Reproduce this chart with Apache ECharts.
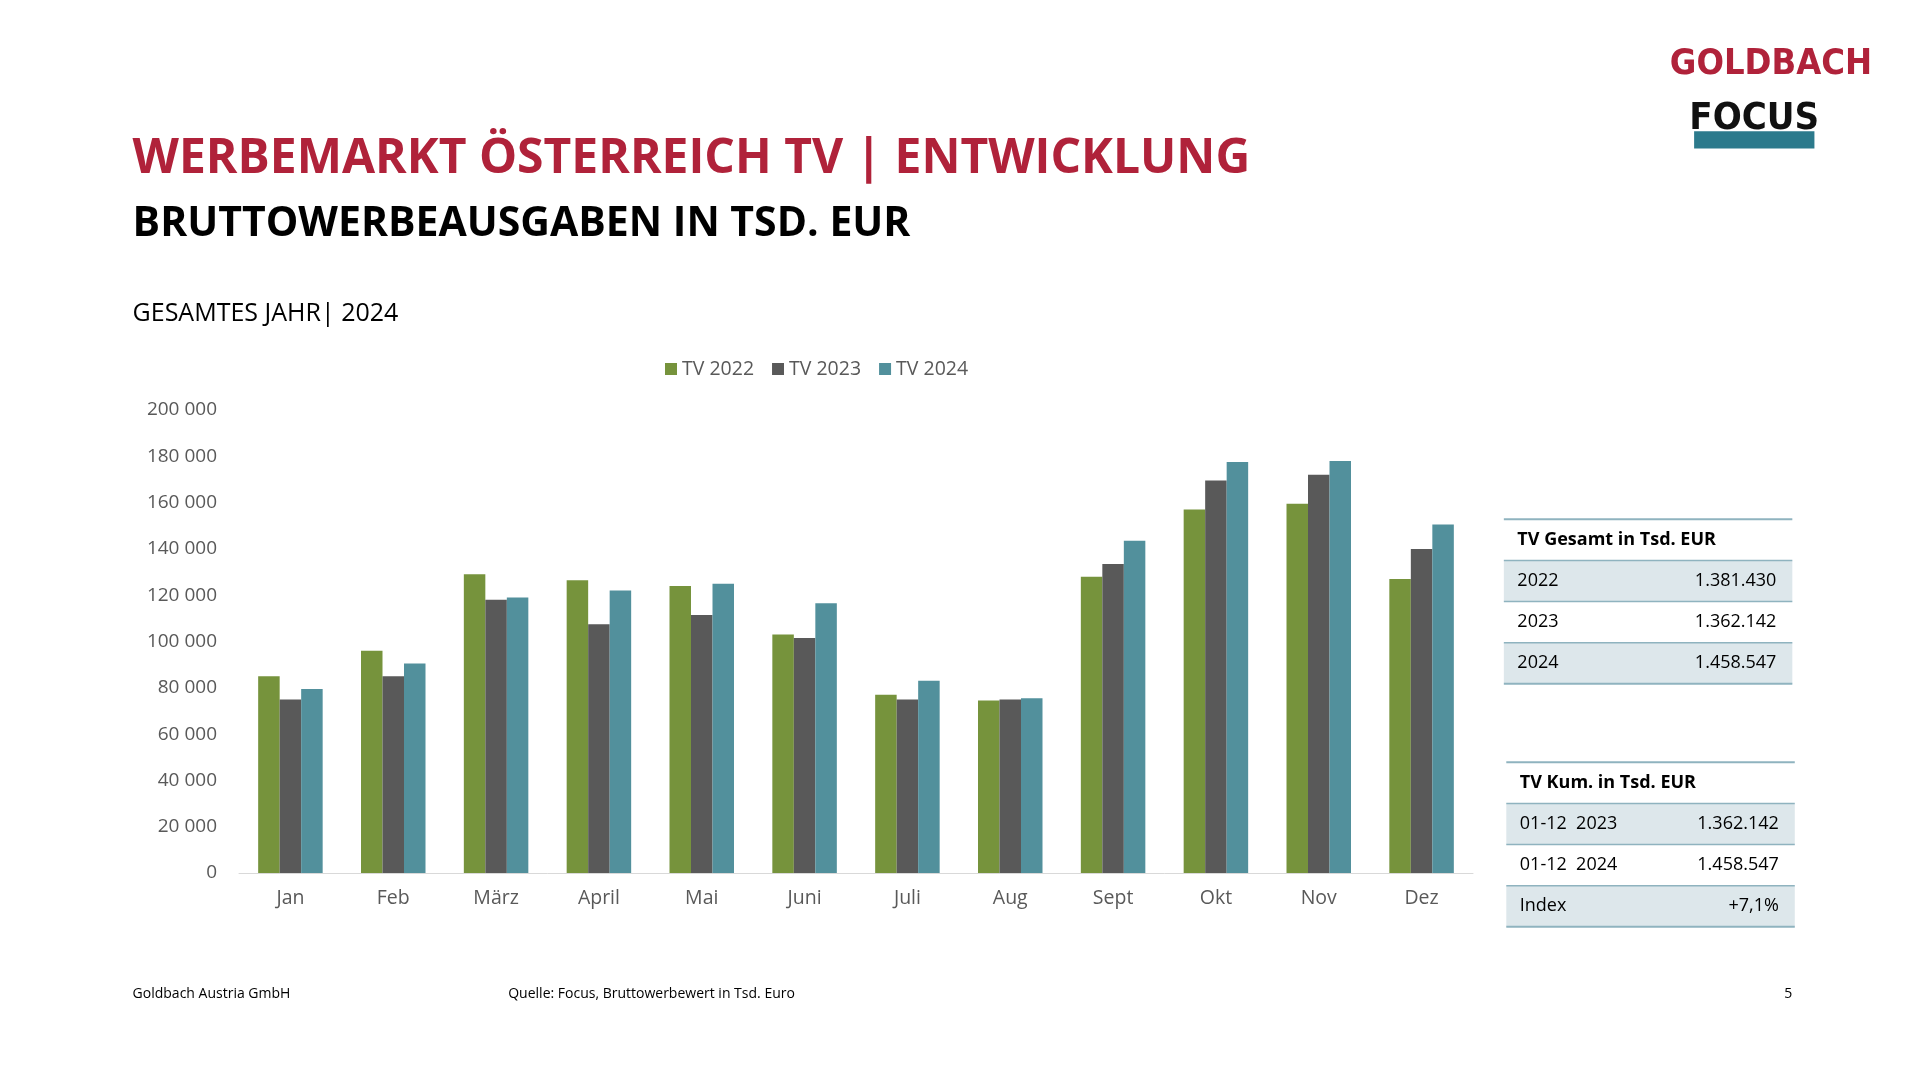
<!DOCTYPE html>
<html><head><meta charset="utf-8">
<script src="https://cdn.jsdelivr.net/npm/echarts@6/dist/echarts.min.js"></script>
<style>html,body{margin:0;padding:0;background:#fff}#c{width:1920px;height:1080px}</style>
</head><body><div id="c"></div>
<script>
const months = ['Jan','Feb','März','April','Mai','Juni','Juli','Aug','Sept','Okt','Nov','Dez'];
const tv2022 = [85000,96000,129000,126500,124000,103000,77000,74500,128000,157000,159500,127000];
const tv2023 = [75000,85000,118000,107500,111500,101500,75000,75000,133500,169500,172000,140000];
const tv2024 = [79500,90500,119000,122000,125000,116500,83000,75500,143500,177500,178000,150500];
const table1Rows = [['2022','1.381.430'],['2023','1.362.142'],['2024','1.458.547']];
const table2Rows = [['01-12  2023','1.362.142'],['01-12  2024','1.458.547'],['Index','+7,1%']];

const S = 1920/1564;
const F = "'Open Sans', sans-serif";
const g = [];
function txt(x,y,t,size,opt={}) {
  g.push({type:'text',x:x*S,y:y*S,style:{text:t,font:(opt.bold?'bold ':'')+Math.round(size*S)+'px '+(opt.family||F),fill:opt.fill||'#000',textAlign:opt.align||'left',textVerticalAlign:'middle'}});
}
function rect(x,y,w,h,fill){g.push({type:'rect',shape:{x:x*S,y:y*S,width:w*S,height:h*S},style:{fill}});}
function line(x1,y1,x2,y2,c,w){g.push({type:'line',shape:{x1:x1*S,y1:y1*S,x2:x2*S,y2:y2*S},style:{stroke:c,lineWidth:w}});}

txt(108,130,'WERBEMARKT ÖSTERREICH TV | ENTWICKLUNG',39,{bold:true,fill:'#B0223A'});
txt(108,183,'BRUTTOWERBEAUSGABEN IN TSD. EUR',33,{bold:true});
txt(108,256,'GESAMTES JAHR| 2024',20.5);
txt(108,810,'Goldbach Austria GmbH',11.5);
txt(414,810,'Quelle: Focus, Bruttowerbewert in Tsd. Euro',11.5);
txt(1460,810,'5',11.5,{align:'right'});
// logo
txt(1525,53,'GOLDBACH',29,{bold:true,fill:'#B0223A',align:'right',family:"'DejaVu Sans Condensed','Liberation Sans Narrow',sans-serif"});
rect(1380,107,98,14,'#2C7A8C');
txt(1429,97,'FOCUS',31,{bold:true,fill:'#111',align:'center',family:"'Liberation Sans Narrow','DejaVu Sans Condensed',sans-serif"});

function table(x,y,w,head,rows,pad){
  const rh=33.5;
  line(x,y,x+w,y,'#8FB3BF',2);
  txt(x+pad,y+rh/2,head,15,{bold:true});
  rows.forEach((r,i)=>{
    const ry=y+rh*(i+1);
    if(i%2===0) rect(x,ry,w,rh,'#DDE7EB');
    line(x,ry,x+w,ry,'#8FB3BF',1.5);
    txt(x+pad,ry+rh/2,r[0],15);
    txt(x+w-13,ry+rh/2,r[1],15,{align:'right'});
  });
  line(x,y+rh*4,x+w,y+rh*4,'#8FB3BF',2);
}
table(1225,423,235,'TV Gesamt in Tsd. EUR',table1Rows,11);
table(1227,621,235,'TV Kum. in Tsd. EUR',table2Rows,11);

const chart = echarts.init(document.getElementById('c'));
const bar = (name,data,color)=>({name,type:'bar',data,barWidth:21.5,barGap:'0%',itemStyle:{color}});
chart.setOption({
  animation:false,
  textStyle:{fontFamily:F},
  graphic:g,
  legend:{top:Math.round(288*S),left:Math.round(538*S),itemWidth:12,itemHeight:12,itemGap:18,icon:'rect',
    textStyle:{fontSize:19.5,color:'#595959',fontFamily:F}},
  grid:{left:Math.round(195*S),right:Math.round(1920-1200*S),top:Math.round(334*S),bottom:Math.round(1080-711*S),containLabel:false},
  xAxis:{type:'category',data:months,axisTick:{show:false},axisLine:{lineStyle:{color:'#D9D9D9'}},
    axisLabel:{fontSize:19.5,color:'#595959',margin:15}},
  yAxis:{type:'value',min:0,max:200000,interval:20000,splitLine:{show:false},
    axisLabel:{fontSize:19,color:'#595959',margin:22,formatter:v=>v===0?'0':String(v).replace(/(\d)(?=(\d{3})+$)/g,'$1 ')}},
  series:[bar('TV 2022',tv2022,'#76933C'),bar('TV 2023',tv2023,'#595959'),bar('TV 2024',tv2024,'#52909C')]
});
</script></body></html>
